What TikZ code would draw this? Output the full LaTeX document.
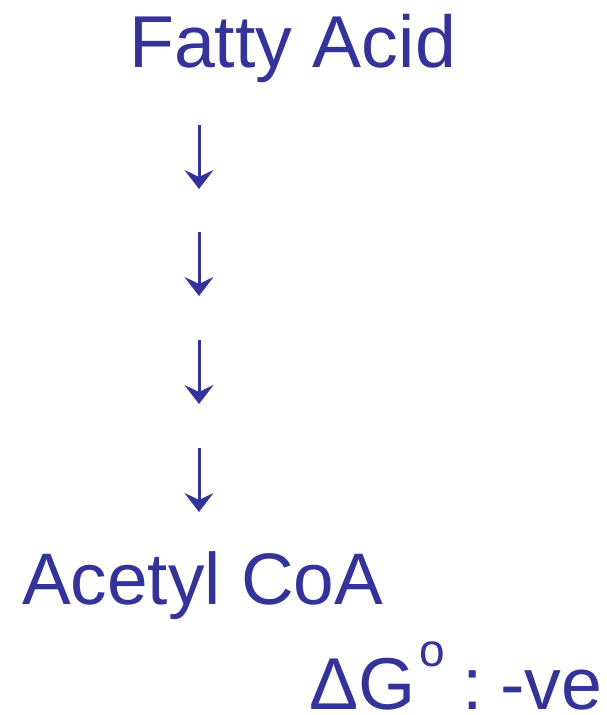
\documentclass[tikz,border=0pt]{standalone}
\usepackage{fontspec}
\setmainfont{Liberation Sans}
\usetikzlibrary{arrows.meta}
\definecolor{ink}{HTML}{333399}
\begin{document}
\begin{tikzpicture}[x=1pt,y=-1pt,
  lbl/.style={inner sep=0pt,anchor=base west,text=ink,font=\fontsize{73.5}{80}\selectfont},
  sup/.style={inner sep=0pt,anchor=base west,text=ink,font=\fontsize{46}{50}\selectfont},
  down/.style={draw=ink,line width=3pt,-{Stealth[length=19pt,width=29pt,inset=7pt]}}]
\useasboundingbox (0,0) rectangle (607,715);
\node[lbl] (fa) at (129,67) {Fatty Acid};
\node[lbl,font=\fontsize{73}{80}\selectfont] (ac) at (22,604) {Acetyl CoA};
\node[lbl,text depth=0pt] (dg) at (309,709) {ΔG};
\node[sup] (dgo) at (419,666) {o};
\node[lbl,text depth=0pt] (col) at (462,709) {:};
\node[lbl,text depth=0pt] (ve) at (500,709) {-ve};
\foreach \i/\t in {1/125,2/232,3/340,4/448}{
  \coordinate (s\i) at (199,\t);
  \coordinate (e\i) at (199,\t+64);
  \draw[down] (s\i) -- (e\i);
}
\end{tikzpicture}
\end{document}
